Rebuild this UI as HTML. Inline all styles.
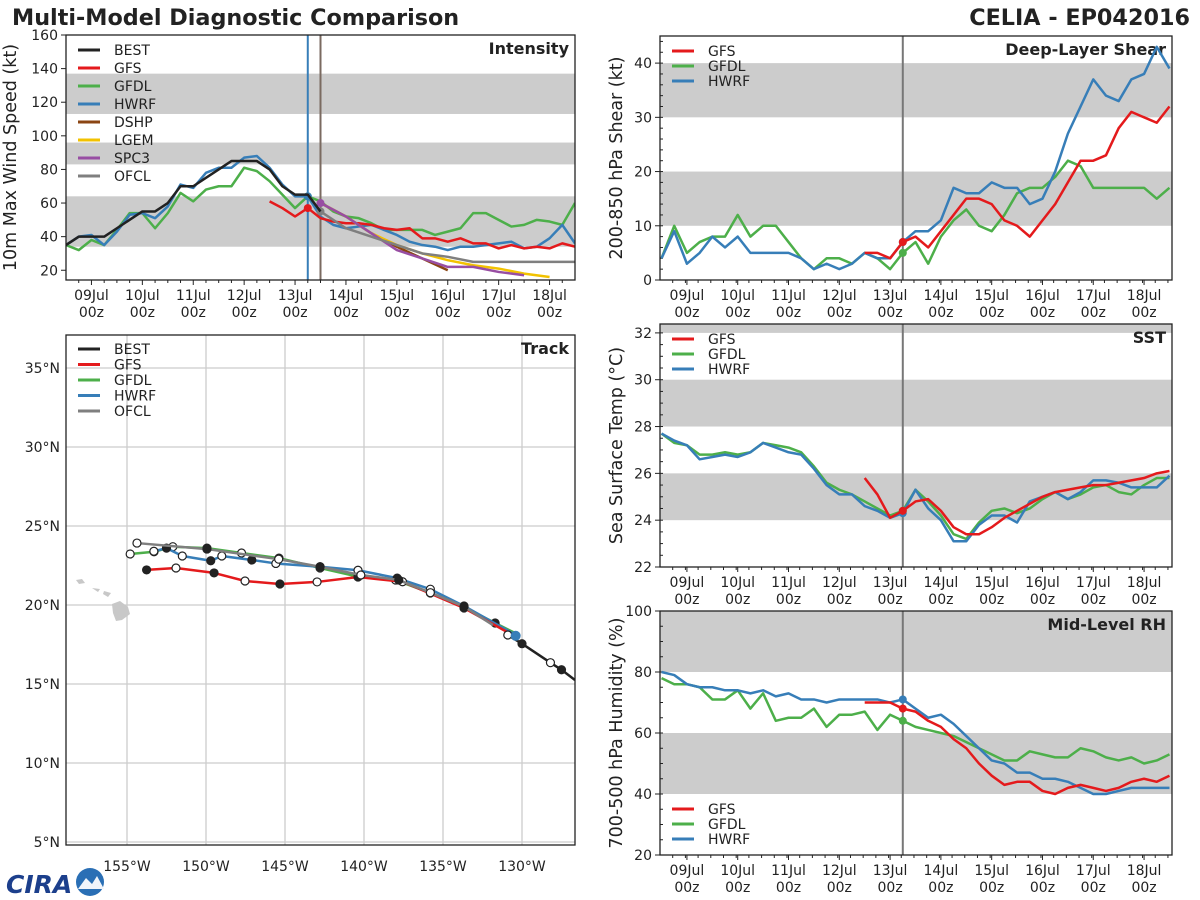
<!DOCTYPE html>
<html><head><meta charset="utf-8"><style>
body{margin:0;background:#fff;}
svg{display:block;font-family:"DejaVu Sans","Liberation Sans",sans-serif;}
</style></head><body>
<svg id="c" width="1200" height="900" viewBox="0 0 1200 900">
<text x="12" y="25" font-size="22.3" font-weight="bold" fill="#222">Multi-Model Diagnostic Comparison</text>
<text x="1190" y="25" font-size="22.3" font-weight="bold" fill="#222" text-anchor="end">CELIA - EP042016</text>
<g>
<text x="6" y="893" font-size="25" font-weight="bold" fill="#1c3f8c" font-style="italic">CIRA</text>
<circle cx="90" cy="882" r="14" fill="#2a6fb5"/>
<path d="M78 889 L86 878 L92 884 L97 876 L104 889 Z" fill="#f0f4fa"/>
</g>
</svg>
<script>
// ---------- DATA ----------
const COLORS = {BEST:'#222222',GFS:'#e41a1c',GFDL:'#4daf4a',HWRF:'#377eb8',DSHP:'#8b4513',LGEM:'#f2c200',SPC3:'#984ea3',OFCL:'#7f7f7f'};
const intBestStart = 8.5;
const intBest = [35,40,40,40,45,50,55,55,60,70,70,75,80,85,85,85,80,70,65,65,55];
const intHwrfStart = 8.5;
const intHwrf = [35,40,41,35,43,53,54,51,58,71,69,78,81,81,87,88,81,71,64,64,52,47,45,46,47,44,41,37,35,34,32,34,34,35,36,37,33,34,39,47,36];
const intGfdlStart = 8.5;
const intGfdl = [35,32,38,35,44,54,54,45,54,66,61,68,70,70,81,79,73,65,57,64,61,55,52,51,48,44,44,44,44,41,43,45,54,54,50,46,47,50,49,47,60];
const intGfsStart = 12.5;
const intGfs = [61,57,52,57,51,49,48,48,47,45,44,45,39,39,37,39,36,36,33,35,33,34,33,36,34];
const intSpc3Start = 13.5;
const intSpc3 = [60,52,42,32,27,22,22,19,17];
const intLgemStart = 13.5;
const intLgem = [60,52,42,35,30,26,23,21,18,16];
const intDshpStart = 13.5;
const intDshp = [60,52,42,34,27,20];
const intOfclStart = 13.5;
const intOfcl = [55,45,40,35,30,28,25,25,25,25,25];

const shrHwrf = [4,9,3,5,8,6,8,5,5,5,5,4,2,3,2,3,5,4,4,7,9,9,11,17,16,16,18,17,17,14,15,20,27,32,37,34,33,37,38,43,39];
const shrGfdl = [4,10,5,7,8,8,12,8,10,10,7,4,2,4,4,3,5,4,2,5,7,3,8,11,13,10,9,12,16,17,17,19,22,21,17,17,17,17,17,15,17];
const shrGfsStart = 12.5;
const shrGfs = [5,5,4,7,8,6,9,12,15,15,14,11,10,8,11,14,18,22,22,23,28,31,30,29,32];

const sstHwrf = [27.7,27.4,27.2,26.6,26.7,26.8,26.7,26.9,27.3,27.1,26.9,26.8,26.2,25.5,25.1,25.1,24.6,24.4,24.1,24.3,25.3,24.5,24.0,23.1,23.1,23.8,24.2,24.2,23.9,24.8,25.0,25.2,24.9,25.2,25.7,25.7,25.6,25.4,25.4,25.4,25.9];
const sstGfdl = [27.7,27.3,27.2,26.8,26.8,26.9,26.8,26.9,27.3,27.2,27.1,26.9,26.3,25.6,25.3,25.1,24.8,24.5,24.2,24.4,25.3,24.8,24.2,23.4,23.2,23.9,24.4,24.5,24.3,24.5,24.9,25.2,24.9,25.1,25.4,25.5,25.2,25.1,25.5,25.8,25.8];
const sstGfsStart = 12.5;
const sstGfs = [25.8,25.1,24.1,24.4,24.8,24.9,24.4,23.7,23.4,23.4,23.7,24.1,24.4,24.7,25.0,25.2,25.3,25.4,25.5,25.5,25.6,25.7,25.8,26.0,26.1];

const rhHwrf = [80,79,76,75,75,74,74,73,74,72,73,71,71,70,71,71,71,71,70,71,68,65,66,63,59,55,51,50,47,47,45,45,44,42,40,40,41,42,42,42,42];
const rhGfdl = [78,76,76,75,71,71,74,68,73,64,65,65,68,62,66,66,67,61,66,64,62,61,60,59,57,55,53,51,51,54,53,52,52,55,54,52,51,52,50,51,53];
const rhGfsStart = 12.5;
const rhGfs = [70,70,70,68,67,64,62,58,55,50,46,43,44,44,41,40,42,43,42,41,42,44,45,44,46];

const dayLabels = ['09Jul','10Jul','11Jul','12Jul','13Jul','14Jul','15Jul','16Jul','17Jul','18Jul'];
const dayValues = [9,10,11,12,13,14,15,16,17,18];

const trkBestLon = [-126.65,-127.5,-128.2,-130.0,-130.9];
const trkBestLat = [15.25,15.9,16.35,17.55,18.1];
const trkGfsLon = [-130.41,-133.67,-137.56,-140.38,-142.97,-145.32,-147.53,-149.49,-151.9,-153.76];
const trkGfsLat = [17.99,19.81,21.47,21.77,21.46,21.33,21.52,22.03,22.34,22.22];
const trkGfdlLon = [-130.19,-131.7,-133.67,-135.8,-138.0,-140.38,-142.78,-145.38,-147.75,-149.94,-152.1,-153.29,-154.8];
const trkGfdlLat = [18.1,18.86,19.87,20.76,21.58,21.79,22.34,22.97,23.29,23.6,23.69,23.37,23.23];
const trkHwrfLon = [-130.3,-133.67,-135.8,-137.9,-140.38,-142.78,-145.58,-147.1,-149.0,-149.7,-151.5,-152.5,-153.3];
const trkHwrfLat = [18.04,19.94,21.0,21.7,22.2,22.42,22.63,22.85,23.1,22.8,23.1,23.6,23.4];
const trkOfclLon = [-131.84,-133.67,-135.8,-137.8,-140.2,-142.78,-145.4,-149.94,-154.37];
const trkOfclLat = [18.73,19.9,20.78,21.58,21.9,22.42,22.9,23.54,23.92];
const lonTicks = [-155,-150,-145,-140,-135,-130];
const latTicks = [5,10,15,20,25,30,35];

// ---------- DRAW ----------
const svg = document.getElementById('c');
const NS = 'http://www.w3.org/2000/svg';
function mk(tag, attrs, name, parent) {
  const el = document.createElementNS(NS, tag);
  for (const k in attrs) el.setAttribute(k, attrs[k]);
  
  
  (parent || svg).appendChild(el);
  return el;
}
function txt(x, y, s, size, anchor, name, extra) {
  const t = mk('text', Object.assign({x: x, y: y, 'font-size': size, 'text-anchor': anchor || 'start', fill: '#222'}, extra || {}), name);
  t.textContent = s;
  return t;
}
function makeTimePanel(p) {
  const xs = d => p.x0 + (d - p.d0) / (p.d1 - p.d0) * (p.x1 - p.x0);
  const ys = v => p.y1 - (v - p.v0) / (p.v1 - p.v0) * (p.y1 - p.y0);
  p.xs = xs; p.ys = ys;
  const cp = mk('clipPath', {id: 'clip-' + p.id}, 'clip-' + p.id);
  mk('rect', {x: p.x0, y: p.y0, width: p.x1 - p.x0, height: p.y1 - p.y0}, 'clip-rect', cp);
  p.bands.forEach(b => {
    const top = Math.max(p.y0, ys(Math.min(b[1], p.v1)));
    const bot = Math.min(p.y1, ys(b[0]));
    mk('rect', {x: p.x0, y: top, width: p.x1 - p.x0, height: bot - top, fill: '#cccccc'}, p.id + '-band');
  });
  p.vlines.forEach(v => mk('line', {x1: xs(v[0]), x2: xs(v[0]), y1: p.y0, y2: p.y1, stroke: v[1], 'stroke-width': 2}, p.id + '-analysis-time-line'));
  p.yticks.forEach(v => {
    mk('line', {x1: p.x0 - 5, x2: p.x0, y1: ys(v), y2: ys(v), stroke: '#222'}, p.id + '-ytick');
    txt(p.x0 - 8, ys(v) + 5, String(v), 14, 'end', p.id + '-ytick-label');
  });
  if (p.minor) for (let v = p.v0c; v <= p.v1; v += p.minor) {
    mk('line', {x1: p.x0, x2: p.x0 + 3, y1: ys(v), y2: ys(v), stroke: '#222'}, p.id + '-minor-tick');
  }
  dayValues.forEach((d, i) => {
    mk('line', {x1: xs(d), x2: xs(d), y1: p.y1, y2: p.y1 + 5, stroke: '#222'}, p.id + '-xtick');
    txt(xs(d), p.y1 + 20, dayLabels[i], 14, 'middle', p.id + '-xtick-date');
    txt(xs(d), p.y1 + 37, '00z', 14, 'middle', p.id + '-xtick-hour');
  });
  for (let d = p.d0 + 0.25; d < p.d1; d += 0.25) {
    if (Math.abs(d - Math.round(d)) > 0.01) mk('line', {x1: xs(d), x2: xs(d), y1: p.y1, y2: p.y1 + 3, stroke: '#222'}, p.id + '-minor-xtick');
  }
  txt(0, 0, p.ylabel, 17.5, 'middle', p.id + '-y-axis-title', {transform: 'translate(' + p.ylx + ',' + ((p.y0 + p.y1) / 2) + ') rotate(-90)'});
  txt(p.x1 - 6, p.y0 + 19, p.title, 16, 'end', p.id + '-panel-title', {'font-weight': 'bold'});
  return p;
}
function series(p, start, vals, color, name, dot) {
  const pts = vals.map((v, i) => p.xs(start + i * p.step) + ',' + p.ys(v)).join(' ');
  mk('polyline', {points: pts, fill: 'none', stroke: color, 'stroke-width': 2.5, 'stroke-linejoin': 'round', 'clip-path': 'url(#clip-' + p.id + ')'}, name);
  if (dot !== undefined) {
    const i = Math.round((dot - start) / p.step);
    mk('circle', {cx: p.xs(dot), cy: p.ys(vals[i]), r: 4, fill: color}, name + '-marker');
  }
}
function frame(x0, y0, x1, y1, name) {
  mk('rect', {x: x0, y: y0, width: x1 - x0, height: y1 - y0, fill: 'none', stroke: '#222', 'stroke-width': 1.3}, name);
}
function legend(x, y, items, gap, name) {
  items.forEach((it, i) => {
    mk('line', {x1: x, x2: x + 22, y1: y + i * gap, y2: y + i * gap, stroke: COLORS[it], 'stroke-width': 3}, name + '-swatch');
    txt(x + 36, y + i * gap + 5, it, 14, 'start', name + '-entry');
  });
}

// Intensity
const P1 = makeTimePanel({id: 'intensity', x0: 66, x1: 575, y0: 35, y1: 280, d0: 8.5, d1: 18.5, v0: 14.2, v1: 160, step: 0.25,
  bands: [[34, 64], [83, 96], [113, 137]], vlines: [[13.25, '#377eb8'], [13.5, '#7a6a60']],
  yticks: [20, 40, 60, 80, 100, 120, 140, 160], ylabel: '10m Max Wind Speed (kt)', ylx: 16, title: 'Intensity'});
series(P1, intGfdlStart, intGfdl, COLORS.GFDL, 'intensity-gfdl-line', 13.25);
series(P1, intHwrfStart, intHwrf, COLORS.HWRF, 'intensity-hwrf-line', 13.25);
series(P1, intGfsStart, intGfs, COLORS.GFS, 'intensity-gfs-line', 13.25);
P1.step = 0.5;
series(P1, intDshpStart, intDshp, COLORS.DSHP, 'intensity-dshp-line');
series(P1, intLgemStart, intLgem, COLORS.LGEM, 'intensity-lgem-line');
series(P1, intSpc3Start, intSpc3, COLORS.SPC3, 'intensity-spc3-line', 13.5);
series(P1, intOfclStart, intOfcl, COLORS.OFCL, 'intensity-ofcl-line', 13.5);
P1.step = 0.25;
series(P1, intBestStart, intBest, COLORS.BEST, 'intensity-best-line');
frame(66, 35, 575, 280, 'intensity-frame');
legend(78, 50, ['BEST', 'GFS', 'GFDL', 'HWRF', 'DSHP', 'LGEM', 'SPC3', 'OFCL'], 18, 'intensity-legend');

// Shear
const P2 = makeTimePanel({id: 'shear', x0: 660, x1: 1172, y0: 36, y1: 280, d0: 8.47, d1: 18.55, v0: 0, v1: 45, v0c: 0, minor: 2, step: 0.25,
  bands: [[10, 20], [30, 40]], vlines: [[13.25, '#777']], yticks: [0, 10, 20, 30, 40],
  ylabel: '200-850 hPa Shear (kt)', ylx: 622, title: 'Deep-Layer Shear'});
series(P2, 8.5, shrGfdl, COLORS.GFDL, 'shear-gfdl-line', 13.25);
series(P2, 8.5, shrHwrf, COLORS.HWRF, 'shear-hwrf-line', 13.25);
series(P2, shrGfsStart, shrGfs, COLORS.GFS, 'shear-gfs-line', 13.25);
frame(660, 36, 1172, 280, 'shear-frame');
legend(672, 51, ['GFS', 'GFDL', 'HWRF'], 15, 'shear-legend');

// SST
const P3 = makeTimePanel({id: 'sst', x0: 660, x1: 1172, y0: 324, y1: 567, d0: 8.47, d1: 18.55, v0: 22, v1: 32.38, v0c: 22, minor: 0.5, step: 0.25,
  bands: [[24, 26], [28, 30], [32, 40]], vlines: [[13.25, '#777']], yticks: [22, 24, 26, 28, 30, 32],
  ylabel: 'Sea Surface Temp (°C)', ylx: 622, title: 'SST'});
series(P3, 8.5, sstGfdl, COLORS.GFDL, 'sst-gfdl-line', 13.25);
series(P3, 8.5, sstHwrf, COLORS.HWRF, 'sst-hwrf-line', 13.25);
series(P3, sstGfsStart, sstGfs, COLORS.GFS, 'sst-gfs-line', 13.25);
frame(660, 324, 1172, 567, 'sst-frame');
legend(672, 339, ['GFS', 'GFDL', 'HWRF'], 15, 'sst-legend');

// RH
const P4 = makeTimePanel({id: 'rh', x0: 660, x1: 1172, y0: 611, y1: 855, d0: 8.47, d1: 18.55, v0: 20, v1: 100, v0c: 20, minor: 5, step: 0.25,
  bands: [[40, 60], [80, 100]], vlines: [[13.25, '#777']], yticks: [20, 40, 60, 80, 100],
  ylabel: '700-500 hPa Humidity (%)', ylx: 622, title: 'Mid-Level RH'});
series(P4, 8.5, rhGfdl, COLORS.GFDL, 'rh-gfdl-line', 13.25);
series(P4, 8.5, rhHwrf, COLORS.HWRF, 'rh-hwrf-line', 13.25);
series(P4, rhGfsStart, rhGfs, COLORS.GFS, 'rh-gfs-line', 13.25);
frame(660, 611, 1172, 855, 'rh-frame');
legend(672, 809, ['GFS', 'GFDL', 'HWRF'], 15, 'rh-legend');

// Track
const TX0 = 66, TX1 = 575, TY0 = 335, TY1 = 845;
const lx = lon => 127 + (lon + 155) * 15.8;
const ly = lat => 368 + (35 - lat) * 15.8;
const tcp = mk('clipPath', {id: 'clip-track'}, 'clip-track');
mk('rect', {x: TX0, y: TY0, width: TX1 - TX0, height: TY1 - TY0}, 'clip-rect', tcp);
lonTicks.forEach(l => {
  mk('line', {x1: lx(l), x2: lx(l), y1: TY0, y2: TY1, stroke: '#cccccc', 'stroke-width': 1.3}, 'track-lon-gridline');
  txt(lx(l), 871, Math.abs(l) + '°W', 14, 'middle', 'track-lon-label');
});
latTicks.forEach(l => {
  mk('line', {x1: TX0, x2: TX1, y1: ly(l), y2: ly(l), stroke: '#cccccc', 'stroke-width': 1.3}, 'track-lat-gridline');
  txt(TX0 - 6, ly(l) + 5, l + '°N', 14, 'end', 'track-lat-label');
});
// Hawaii
mk('path', {d: 'M112 604 L120 601 L128 607 L130 614 L122 620 L116 621 L113 613 Z', fill: '#c8c8c8'}, 'hawaii-big-island');
mk('path', {d: 'M76 580 L82 579 L85 583 L79 584 Z M92 588 L100 589 L98 592 Z M104 591 L111 593 L108 597 L103 594 Z', fill: '#c8c8c8'}, 'hawaii-islands');
function track(lons, lats, color, name) {
  const pts = lons.map((l, i) => lx(l) + ',' + ly(lats[i])).join(' ');
  mk('polyline', {points: pts, fill: 'none', stroke: color, 'stroke-width': 2.5, 'stroke-linejoin': 'round', 'clip-path': 'url(#clip-track)'}, name);
  lons.forEach((l, i) => {
    if (i === 0) return;
    mk('circle', {cx: lx(l), cy: ly(lats[i]), r: 4, fill: i % 2 ? '#222' : '#fff', stroke: '#222', 'stroke-width': 1.2, 'clip-path': 'url(#clip-track)'}, name + '-marker');
  });
}
track(trkGfdlLon, trkGfdlLat, COLORS.GFDL, 'track-gfdl');
track(trkHwrfLon, trkHwrfLat, COLORS.HWRF, 'track-hwrf');
track(trkGfsLon, trkGfsLat, COLORS.GFS, 'track-gfs');
track(trkOfclLon, trkOfclLat, COLORS.OFCL, 'track-ofcl');
track(trkBestLon, trkBestLat, COLORS.BEST, 'track-best');
mk('circle', {cx: lx(-130.4), cy: ly(18.05), r: 5, fill: COLORS.HWRF}, 'track-current-position');
frame(TX0, TY0, TX1, TY1, 'track-frame');
txt(TX1 - 6, TY0 + 19, 'Track', 16, 'end', 'track-panel-title', {'font-weight': 'bold'});
legend(78, 349, ['BEST', 'GFS', 'GFDL', 'HWRF', 'OFCL'], 15.5, 'track-legend');
</script>
</body></html>
